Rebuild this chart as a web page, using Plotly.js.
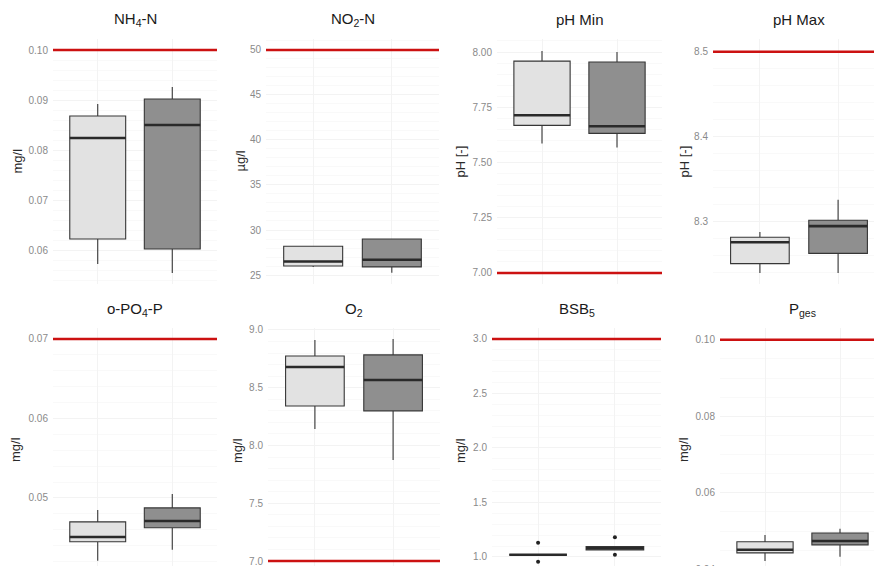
<!DOCTYPE html>
<html>
<head>
<meta charset="utf-8">
<script src="https://cdn.plot.ly/plotly-3.0.1.min.js"></script>
<style>
  html, body { margin: 0; padding: 0; overflow: hidden; background: #fff; }
  #chart { width: 900px; height: 600px; }
</style>
</head>
<body>
<div id="chart"></div>
<script>
// ---- data ----
const titles = ['NH<sub>4</sub>-N', 'NO<sub>2</sub>-N', 'pH Min', 'pH Max',
                'o-PO<sub>4</sub>-P', 'O<sub>2</sub>', 'BSB<sub>5</sub>', 'P<sub>ges</sub>'];
const units = ['mg/l', 'µg/l', 'pH [-]', 'pH [-]', 'mg/l', 'mg/l', 'mg/l', 'mg/l'];
const limits = [0.10, 50, 7.00, 8.5, 0.07, 7.0, 3.0, 0.10];

const lightLow = [0.0572, 25.9, 7.586, 8.240, 0.0421, 8.143, 1.02, 0.0422];
const lightQ1  = [0.0622, 26.0, 7.668, 8.251, 0.0445, 8.342, 1.02, 0.0443];
const lightMed = [0.0824, 26.5, 7.714, 8.276, 0.0451, 8.680, 1.02, 0.0451];
const lightQ3  = [0.0868, 28.2, 7.959, 8.282, 0.0470, 8.775, 1.02, 0.0472];
const lightHigh= [0.0892, 28.2, 8.005, 8.288, 0.0485, 8.913, 1.02, 0.0490];

const darkLow  = [0.0554, 25.25, 7.568, 8.240, 0.0435, 7.874, 1.065, 0.0433];
const darkQ1   = [0.0602, 25.9, 7.632, 8.263, 0.04625, 8.300, 1.065, 0.0464];
const darkMed  = [0.0850, 26.7, 7.664, 8.295, 0.0471, 8.567, 1.080, 0.0474];
const darkQ3   = [0.0902, 29.0, 7.955, 8.302, 0.04875, 8.784, 1.095, 0.0495];
const darkHigh = [0.0926, 29.0, 8.000, 8.326, 0.0505, 8.922, 1.095, 0.0506];

// outliers (BSB5 panel only)
const outlierPanel = 6;
const lightOutliers = [1.13, 0.955];
const darkOutliers = [1.18, 1.02];

const yTickStep = [0.01, 5, 0.25, 0.1, 0.01, 0.5, 0.5, 0.02];
const yTickFormat = ['.2f', 'd', '.2f', '.1f', '.2f', '.1f', '.1f', '.2f'];

// ---- layout geometry (pixels in a 900x600 canvas) ----
const W = 900, H = 600;
const panelX = [[53, 217], [266, 439], [497, 662], [713, 885],
                [53, 217], [268, 440], [492, 661], [720, 885]];
const panelY = [[39, 284], [39, 284], [39, 284], [39, 284],
                [328, 572], [328, 572], [328, 572], [328, 572]];
const yRanges = [[0.0532, 0.1022], [24.0, 51.22], [6.95, 8.059], [8.227, 8.515],
                 [0.04069, 0.07138], [6.905, 9.017], [0.862, 3.10], [0.0393, 0.1031]];
const yTitleX = [17, 240, 460, 684, 15, 237, 460, 683];
const titleY = [20, 20, 20, 20, 309, 309, 309, 309];

const lightFill = '#e2e2e2';
const darkFill = '#8f8f8f';
const edge = '#363636';
const gridCol = '#f3f3f3';
const font = 'Liberation Sans, Arial, sans-serif';

const traces = [];
const layout = {
  width: W, height: H,
  margin: {l: 0, r: 0, t: 0, b: 0},
  paper_bgcolor: '#fff', plot_bgcolor: '#fff',
  showlegend: false,
  boxmode: 'overlay',
  font: {family: font},
  shapes: [], annotations: []
};

for (let i = 0; i < 8; i++) {
  const n = i + 1;
  const xa = 'x' + (n === 1 ? '' : n), ya = 'y' + (n === 1 ? '' : n);
  const xKey = 'xaxis' + (n === 1 ? '' : n), yKey = 'yaxis' + (n === 1 ? '' : n);

  const series = [
    {x: 1, lo: lightLow[i], q1: lightQ1[i], med: lightMed[i], q3: lightQ3[i], hi: lightHigh[i], fill: lightFill},
    {x: 2, lo: darkLow[i], q1: darkQ1[i], med: darkMed[i], q3: darkQ3[i], hi: darkHigh[i], fill: darkFill}
  ];
  series.forEach(s => {
    traces.push({
      type: 'box', x: [s.x], q1: [s.q1], median: [s.med], q3: [s.q3],
      lowerfence: [s.lo], upperfence: [s.hi],
      width: 0.75, whiskerwidth: 0, boxpoints: false,
      fillcolor: s.fill, line: {color: edge, width: 1.1},
      xaxis: xa, yaxis: ya, hoverinfo: 'skip'
    });
    // thick median line
    traces.push({
      type: 'box', x: [s.x], q1: [s.med], median: [s.med], q3: [s.med],
      lowerfence: [s.med], upperfence: [s.med],
      width: 0.75, whiskerwidth: 0, boxpoints: false,
      fillcolor: 'rgba(0,0,0,0)', line: {color: '#2a2a2a', width: 2.6},
      xaxis: xa, yaxis: ya, hoverinfo: 'skip'
    });
  });

  if (i === outlierPanel) {
    traces.push({
      type: 'scatter', mode: 'markers',
      x: lightOutliers.map(() => 1).concat(darkOutliers.map(() => 2)),
      y: lightOutliers.concat(darkOutliers),
      marker: {color: '#222', size: 4},
      xaxis: xa, yaxis: ya, hoverinfo: 'skip'
    });
  }

  layout[xKey] = {
    domain: [panelX[i][0] / W, panelX[i][1] / W],
    range: [0.4, 2.6], anchor: ya,
    tickvals: [1, 2], showticklabels: false, ticks: '',
    showgrid: true, gridcolor: gridCol, gridwidth: 1,
    zeroline: false, showline: false, fixedrange: true
  };
  layout[yKey] = {
    domain: [1 - panelY[i][1] / H, 1 - panelY[i][0] / H],
    range: yRanges[i], anchor: xa,
    dtick: yTickStep[i], tickformat: yTickFormat[i],
    ticks: '', ticklabelstandoff: 4,
    tickfont: {family: font, size: 10, color: '#8a8a8a'},
    showgrid: true, gridcolor: gridCol, gridwidth: 1,
    minor: {showgrid: true, gridcolor: '#f9f9f9'},
    zeroline: false, showline: false, fixedrange: true
  };

  layout.shapes.push({
    type: 'line', xref: xa + ' domain', yref: ya,
    x0: 0, x1: 1, y0: limits[i], y1: limits[i],
    line: {color: '#cc1111', width: 2.5}, layer: 'above'
  });

  layout.annotations.push({
    text: titles[i], xref: xa + ' domain', yref: 'paper',
    x: 0.5, y: 1 - titleY[i] / H, xanchor: 'center', yanchor: 'middle',
    showarrow: false, font: {family: font, size: 15, color: '#1a1a1a'}
  });
  layout.annotations.push({
    text: units[i], xref: 'paper', yref: 'paper',
    x: yTitleX[i] / W, y: 1 - (panelY[i][0] + panelY[i][1]) / 2 / H,
    xanchor: 'center', yanchor: 'middle', textangle: -90,
    showarrow: false, font: {family: font, size: 13, color: '#2a2a2a'}
  });
}

Plotly.newPlot('chart', traces, layout, {staticPlot: true, displayModeBar: false});
</script>
</body>
</html>
